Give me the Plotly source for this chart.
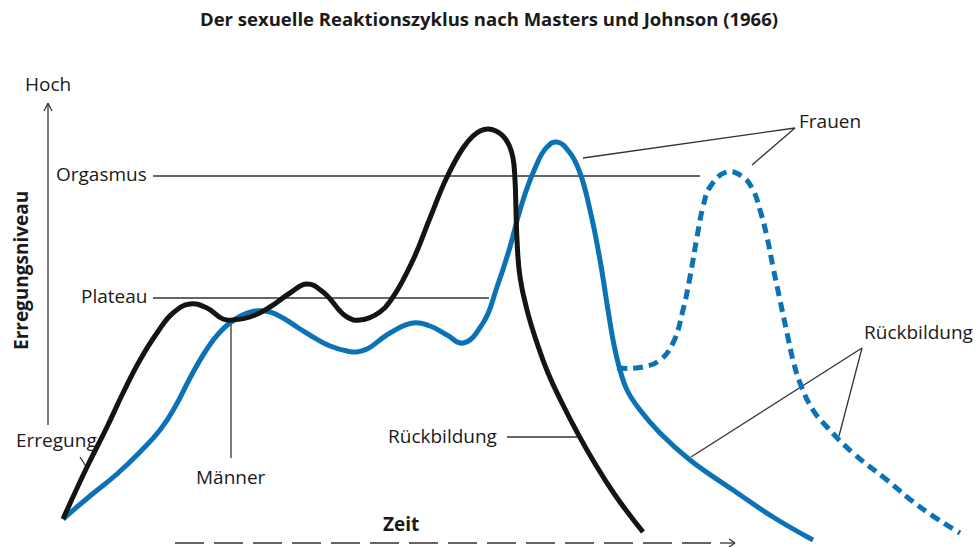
import plotly.graph_objects as go

W, H = 977, 547
BLACK = "#141512"
BLUE = "#0b72b5"
GREY = "#333333"
FONT = "Open Sans"

# Curve samples (pixel space of the diagram)
men_x = [63, 87, 107, 123, 140, 157, 173, 190, 207, 223, 233, 250, 270, 290, 307, 323, 347, 360,
         380, 393, 413, 430, 447, 463, 472, 480, 488, 496, 503, 509, 513, 515, 516, 517, 520, 527, 537,
         548, 562, 577, 594, 615, 643]
men_y = [519, 467, 427, 393, 360, 333, 313, 304, 308, 319, 320, 317, 307, 293, 284, 292, 317, 320,
         312, 297, 260, 218, 177, 148, 137, 131, 129, 131, 136, 145, 158, 180, 210, 240, 277, 310, 343,
         373, 403, 432, 462, 495, 532]

women_x = [63, 90, 117, 140, 160, 175, 190, 205, 220, 237, 255, 270, 283, 300, 313, 330, 347, 357, 367,
           390, 413, 430, 447, 463, 483, 497, 510, 520, 533, 547, 557, 570, 580, 590, 600, 608, 614, 620,
           627, 640, 660, 690, 733, 773, 813]
women_y = [519, 496, 474, 452, 430, 407, 378, 352, 332, 318, 311, 312, 318, 329, 337, 346, 351, 352, 349,
           333, 323, 326, 335, 343, 323, 287, 247, 210, 173, 147, 142, 153, 173, 210, 260, 310, 345, 370,
           390, 410, 433, 460, 490, 517, 540]

women2_x = [617, 643, 660, 673, 683, 690, 697, 703, 710, 727, 743, 753, 760, 767, 773, 780, 787, 793, 800,
            813, 827, 853, 887, 920, 960]
women2_y = [368, 367, 360, 343, 310, 277, 237, 207, 187, 172, 177, 190, 210, 237, 267, 300, 333, 360, 383,
            410, 427, 453, 480, 507, 533]

# Time axis (dashed shaft ends, then a short arrow)
time_x = [175, 714]
time_y = [543, 543]

# Leader / axis lines (x0, y0, x1, y1)
leaders = [
    (153, 176, 700, 176),   # Orgasmus
    (153, 298, 489, 298),   # Plateau
    (231, 320, 231, 458),   # Männer
    (80, 457, 87, 468),     # Erregung
    (507, 437, 577, 437),   # Rückbildung (Männer)
    (795, 128, 583, 158),   # Frauen 1
    (795, 128, 752, 165),   # Frauen 2
    (862, 348, 691, 457),   # Rückbildung 1
    (862, 348, 839, 436),   # Rückbildung 2
    (48, 425, 48, 104),     # vertical axis
    (44, 111, 48, 103),     # arrow head
    (52, 111, 48, 103),
    (720, 543, 735, 543),   # time arrow
    (729, 539, 735, 543),
    (729, 547, 735, 543),
]

fig = go.Figure()
fig.add_trace(go.Scatter(x=time_x, y=time_y, mode="lines",
                         line=dict(color=GREY, width=1.3, dash="29px,10px"), hoverinfo="skip"))
fig.add_trace(go.Scatter(x=women2_x, y=women2_y, mode="lines",
                         line=dict(color=BLUE, width=5, dash="10px,6px", shape="spline", smoothing=1.3),
                         hoverinfo="skip"))
fig.add_trace(go.Scatter(x=women_x, y=women_y, mode="lines",
                         line=dict(color=BLUE, width=5, shape="spline", smoothing=1.3), hoverinfo="skip"))
fig.add_trace(go.Scatter(x=men_x, y=men_y, mode="lines",
                         line=dict(color=BLACK, width=5, shape="spline", smoothing=1.3), hoverinfo="skip"))

shapes = [dict(type="line", x0=a, y0=b, x1=c, y1=d, xref="x", yref="y",
               line=dict(color=GREY, width=1.3), layer="below") for a, b, c, d in leaders]

def txt(t, x, y, xa="center", size=19, bold=False, angle=0):
    return dict(text=f"<b>{t}</b>" if bold else t, x=x, y=y, xref="x", yref="y",
                xanchor=xa, yanchor="middle", showarrow=False, textangle=angle,
                font=dict(family=FONT, size=size, color="#1a1a1a"))

annotations = [
    txt("Der sexuelle Reaktionszyklus nach Masters und Johnson (1966)", 489, 18, size=18.5, bold=True),
    txt("Hoch", 48, 84),
    txt("Orgasmus", 149, 174, xa="right"),
    txt("Plateau", 149, 296, xa="right"),
    txt("Erregung", 56, 440),
    txt("Männer", 231, 477),
    txt("Rückbildung", 499, 436, xa="right"),
    txt("Frauen", 797, 121, xa="left"),
    txt("Rückbildung", 862, 332, xa="left"),
    txt("Zeit", 401, 524, size=19, bold=True),
    txt("Erregungsniveau", 21, 271, size=19, bold=True, angle=-90),
]

fig.update_layout(
    width=W, height=H, margin=dict(l=0, r=0, t=0, b=0),
    paper_bgcolor="white", plot_bgcolor="white", showlegend=False,
    xaxis=dict(range=[0, W], visible=False, fixedrange=True),
    yaxis=dict(range=[H, 0], visible=False, fixedrange=True),
    shapes=shapes, annotations=annotations,
)
fig.write_html("out.html", config={"displayModeBar": False},
               post_script="document.body.style.margin='0';document.body.style.padding='0';"
                           "document.documentElement.style.overflow='hidden';")
